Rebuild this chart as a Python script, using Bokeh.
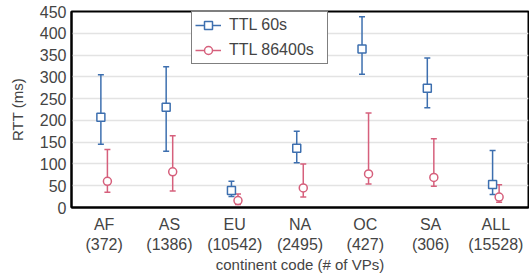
from bokeh.plotting import figure
from bokeh.models import (ColumnDataSource, FactorRange, Whisker, TeeHead, Legend,
                          LegendItem, FixedTicker, Range1d)
from bokeh.transform import dodge
from bokeh.embed import file_html
from bokeh.resources import INLINE

cats = ["AF", "AS", "EU", "NA", "OC", "SA", "ALL"]
vps = [372, 1386, 10542, 2495, 427, 306, 15528]

ttl60_mid = [207, 230, 39, 136, 364, 274, 53]
ttl60_lo = [145, 129, 25, 103, 306, 229, 30]
ttl60_hi = [305, 323, 60, 175, 438, 343, 131]

ttl86400_mid = [60, 82, 16, 45, 77, 69, 24]
ttl86400_lo = [35, 38, 7, 24, 54, 49, 12]
ttl86400_hi = [133, 165, 31, 100, 217, 158, 52]

y_ticks = [0, 50, 100, 150, 200, 250, 300, 350, 400, 450]

BLUE = "#3d6faf"
RED = "#d6607c"
FONT = "Liberation Sans"

factors = [f"{c}\n({n})" for c, n in zip(cats, vps)]

src60 = ColumnDataSource(dict(x=factors, mid=ttl60_mid, lo=ttl60_lo, hi=ttl60_hi))
src864 = ColumnDataSource(dict(x=factors, mid=ttl86400_mid, lo=ttl86400_lo, hi=ttl86400_hi))

p = figure(width=529, height=278, x_range=FactorRange(*factors, range_padding=0),
           y_range=Range1d(0, 450), output_backend="svg", toolbar_location=None,
           min_border_left=71, min_border_top=11, min_border_right=1, min_border_bottom=71)

series = []
for src, color, marker, off in ((src60, BLUE, "square", -0.05), (src864, RED, "circle", 0.05)):
    xd = dodge("x", off, range=p.x_range)
    seg = p.segment(x0=xd, y0="lo", x1=xd, y1="hi", source=src, line_color=color, line_width=1.5)
    w = Whisker(base=xd, upper="hi", lower="lo", source=src, line_alpha=0,
                upper_head=TeeHead(size=6, line_color=color, line_width=1.5),
                lower_head=TeeHead(size=6, line_color=color, line_width=1.5))
    p.add_layout(w)
    sc = p.scatter(x=xd, y="mid", source=src, marker=marker, size=8, fill_color="white",
                   line_color=color, line_width=1.5)
    series.append([seg, sc])

legend = Legend(items=[LegendItem(label="TTL 60s", renderers=series[0]),
                       LegendItem(label="TTL 86400s", renderers=series[1])],
                location=(120, 143), border_line_color="black", border_line_width=1.2,
                label_text_font=FONT, label_text_font_size="16px", glyph_width=26,
                label_height=20, glyph_height=20, spacing=5, padding=3, margin=0,
                label_standoff=8, label_width=95, background_fill_alpha=1)
p.add_layout(legend, "center")

p.yaxis.ticker = FixedTicker(ticks=y_ticks)
p.yaxis.axis_label = "RTT (ms)"
p.xaxis.axis_label = "continent code (# of VPs)"
for ax in (p.xaxis, p.yaxis):
    ax.axis_label_text_font = FONT
    ax.axis_label_text_font_size = "15px"
    ax.axis_label_text_font_style = "normal"
    ax.major_label_text_font = FONT
    ax.major_label_text_font_size = "16px"
    ax.major_tick_out = 0
    ax.major_tick_in = 0
    ax.minor_tick_line_color = None
    ax.axis_line_color = "black"
    ax.axis_line_width = 2
p.yaxis.major_label_standoff = 5
p.xaxis.major_label_standoff = 8
p.yaxis.axis_label_standoff = 11
p.xaxis.axis_label_standoff = 0

p.xgrid.grid_line_color = None
p.ygrid.grid_line_color = "#e3e3e3"
p.ygrid.grid_line_width = 1.5
p.ygrid.ticker = FixedTicker(ticks=y_ticks)
p.outline_line_color = "black"
p.outline_line_width = 2
p.background_fill_color = "white"

open("out.html", "w").write(file_html(p, INLINE))
